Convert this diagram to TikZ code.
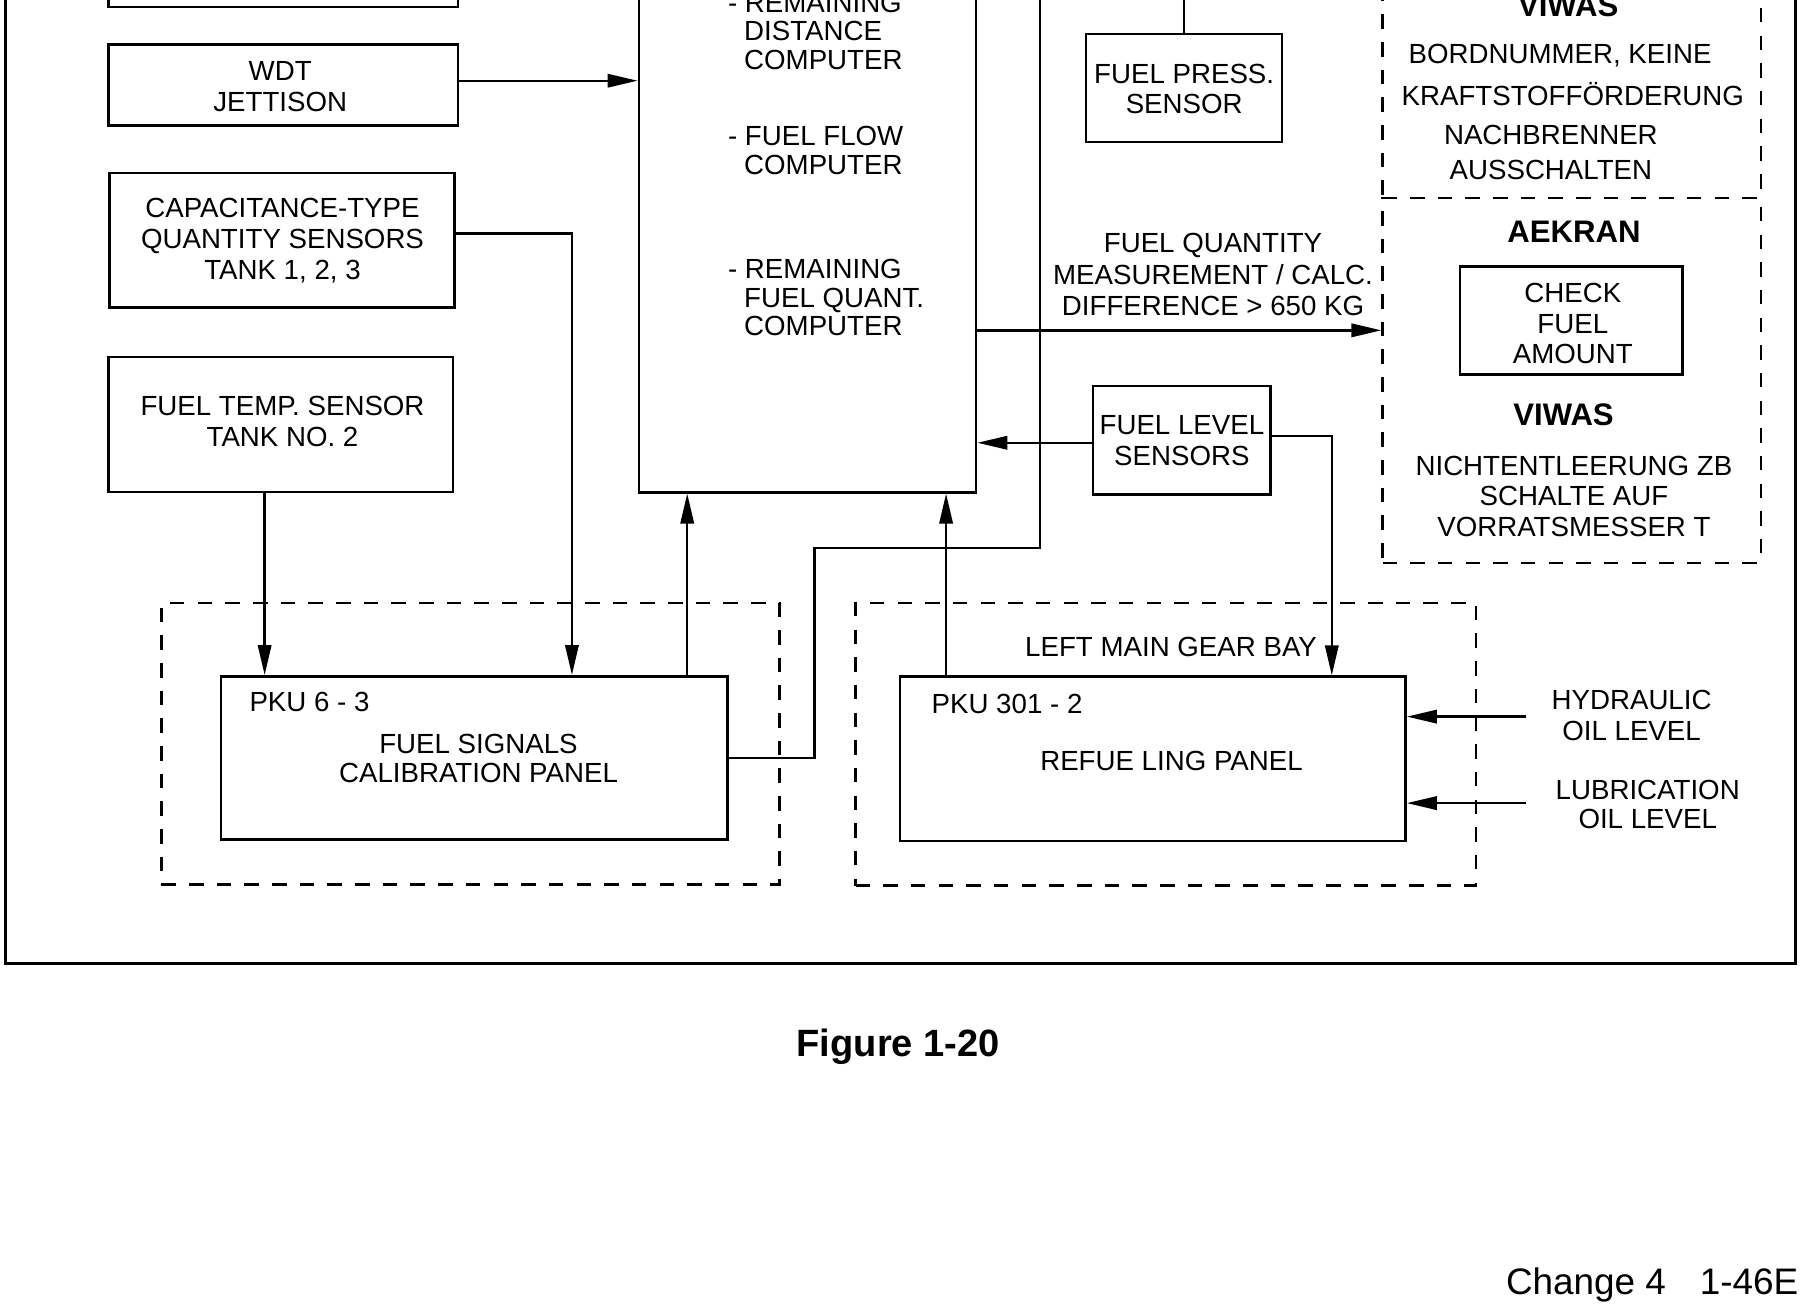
\documentclass[tikz,border=0pt]{standalone}
\usepackage{fontspec}
\setmainfont{Liberation Sans}
\usetikzlibrary{arrows.meta}
\newcommand{\rgf}{\fontsize{12pt}{13.5pt}\selectfont}
\newcommand{\bdf}{\fontsize{13.5pt}{15pt}\selectfont\bfseries}
\tikzset{
  box/.style={draw, line width=1.1pt, inner sep=0pt},
  dbox/.style={draw, line width=1pt, dash pattern=on 6.3pt off 5.7pt, inner sep=0pt},
  arr/.style={line width=1pt, -{Triangle[length=13pt,width=5.8pt]}},
  ln/.style={line width=1pt},
  txt/.style={inner sep=0pt, anchor=base, font=\rgf},
  txl/.style={inner sep=0pt, anchor=base west, font=\rgf},
  btxt/.style={inner sep=0pt, anchor=base, font=\bdf}
}
\begin{document}
\begin{tikzpicture}[x=0.5pt,y=-0.5pt]
\useasboundingbox (0,0) rectangle (1568,1138);
\clip (0,0) rectangle (1568,1138);

% outer frame
\draw[line width=1.1pt] (5,-60) -- (5,835.5) -- (1557,835.5) -- (1557,-60);

% dashed groups
\node[dbox, minimum width=268pt, minimum height=122pt] (d1) at (408,645) {};
\node[dbox, minimum width=269pt, minimum height=122.5pt] (d2) at (1011,645.5) {};
\node[dbox, minimum width=164pt, minimum height=115.75pt] (d3) at (1363,55.75) {};
\node[dbox, minimum width=164pt, minimum height=158.25pt] (aek) at (1363,329.75) {};

% boxes
\node[box, minimum width=151.5pt, minimum height=33pt] (topbox) at (245.5,-27) {};
\node[box, minimum width=151.5pt, minimum height=35.25pt] (wdt) at (245.5,73.75) {};
\node[box, minimum width=149.5pt, minimum height=58.25pt] (cap) at (244.5,208.25) {};
\node[box, minimum width=149.5pt, minimum height=58.5pt] (ftemp) at (243.5,368) {};
\node[box, minimum width=146.25pt, minimum height=243.5pt] (comp) at (700.25,183.5) {};
\node[box, minimum width=85pt, minimum height=46.75pt] (fpress) at (1027,76.25) {};
\node[box, minimum width=77pt, minimum height=47.2pt] (flevel) at (1025,381.8) {};
\node[box, minimum width=96.5pt, minimum height=47pt] (check) at (1362.5,278) {};
\node[box, minimum width=219.6pt, minimum height=70.75pt] (pku63) at (411.4,657.25) {};
\node[box, minimum width=219.25pt, minimum height=71.3pt] (refuel) at (999.75,658.1) {};

% helper coordinates
\coordinate (wdtout) at (397,70);
\coordinate (capout) at (394,202.5);
\coordinate (capx) at (496,0);
\coordinate (tx) at (229.5,0);
\coordinate (ux1) at (596,0);
\coordinate (ux2) at (820.5,0);
\coordinate (py) at (0,657.5);
\coordinate (c1) at (706.5,475.5);
\coordinate (topA) at (902,-60);
\coordinate (fly) at (0,384);
\coordinate (fly2) at (0,378);
\coordinate (dx) at (1155,0);
\coordinate (oy) at (0,286.5);
\coordinate (topB) at (1027,-60);
\coordinate (hyd) at (1323.6,621.5);
\coordinate (lub) at (1323.6,696.5);

% connectors
\draw[arr] (wdtout) -- (wdtout -| comp.west);
\draw[arr] (capout) -| (capx |- pku63.north);
\draw[arr] (tx |- ftemp.south) -- (tx |- pku63.north);
\draw[arr] (ux1 |- pku63.north) -- (ux1 |- comp.south);
\draw[ln] (pku63.east |- py) -| (c1) -| (topA);
\draw[arr] (ux2 |- refuel.north) -- (ux2 |- comp.south);
\draw[arr] (flevel.west |- fly) -- (comp.east |- fly);
\draw[arr] (flevel.east |- fly2) -| (dx |- refuel.north);
\draw[arr] (comp.east |- oy) -- (aek.west |- oy);
\draw[ln] (fpress.north) -- (topB);
\draw[arr] (hyd) -- (hyd -| refuel.east);
\draw[arr] (lub) -- (lub -| refuel.east);

% texts left column
\node[txt] (t1) at (243,69.6) {WDT};
\node[txt] (t2) at (243,96.6) {JETTISON};
\node[txt] (t3) at (245,188.6) {CAPACITANCE-TYPE};
\node[txt] (t4) at (245,215.6) {QUANTITY SENSORS};
\node[txt] (t5) at (245,242.6) {TANK 1, 2, 3};
\node[txt] (t6) at (245,360.6) {FUEL TEMP. SENSOR};
\node[txt] (t7) at (245,387.6) {TANK NO. 2};

% computer texts
\node[txl] (c1a) at (631,10.5) {- REMAINING};
\node[txl] (c1b) at (645,35.2) {DISTANCE};
\node[txl] (c1c) at (645,59.9) {COMPUTER};
\node[txl] (c2a) at (631,126.5) {- FUEL FLOW};
\node[txl] (c2b) at (645,151) {COMPUTER};
\node[txl] (c3a) at (631,241.6) {- REMAINING};
\node[txl] (c3b) at (645,266.3) {FUEL QUANT.};
\node[txl] (c3c) at (645,291.1) {COMPUTER};

% middle texts
\node[txt] (fp1) at (1027,72.1) {FUEL PRESS.};
\node[txt] (fp2) at (1027,98.6) {SENSOR};
\node[txt] (fq1) at (1052,218.6) {FUEL QUANTITY};
\node[txt] (fq2) at (1052,246.6) {MEASUREMENT / CALC.};
\node[txt] (fq3) at (1052,273.4) {DIFFERENCE > 650 KG};
\node[txt] (fl1) at (1025,377.2) {FUEL LEVEL};
\node[txt] (fl2) at (1025,403.6) {SENSORS};

% right column
\node[btxt] (v1) at (1360,14.5) {VIWAS};
\node[txt] (v2) at (1353,55.1) {BORDNUMMER, KEINE};
\node[txt] (v3) at (1364,91.6) {KRAFTSTOFFÖRDERUNG};
\node[txt] (v4) at (1345,125.6) {NACHBRENNER};
\node[txt] (v5) at (1345,155.6) {AUSSCHALTEN};
\node[btxt] (a1) at (1365,210.7) {AEKRAN};
\node[txt] (k1) at (1364,262.6) {CHECK};
\node[txt] (k2) at (1364,289.6) {FUEL};
\node[txt] (k3) at (1364,315.6) {AMOUNT};
\node[btxt] (w1) at (1356,368.7) {VIWAS};
\node[txt] (w2) at (1365,412.6) {NICHTENTLEERUNG ZB};
\node[txt] (w3) at (1365,438.6) {SCHALTE AUF};
\node[txt] (w4) at (1365,465.6) {VORRATSMESSER T};

% bottom groups
\node[txl] (p1) at (216,617) {PKU 6 - 3};
\node[txt] (p2) at (415,653.6) {FUEL SIGNALS};
\node[txt] (p3) at (415,678.3) {CALIBRATION PANEL};
\node[txt] (g1) at (1015.6,569.4) {LEFT MAIN GEAR BAY};
\node[txl] (r1) at (807.6,618.4) {PKU 301 - 2};
\node[txt] (r2) at (1016,668.3) {REFUE LING PANEL};
\node[txt] (h1) at (1415,615.6) {HYDRAULIC};
\node[txt] (h2) at (1415,642.3) {OIL LEVEL};
\node[txt] (l1) at (1429,693.1) {LUBRICATION};
\node[txt] (l2) at (1429,718.1) {OIL LEVEL};

% captions
\node[inner sep=0pt, anchor=base, font=\fontsize{16.5pt}{18pt}\selectfont\bfseries] (fig) at (779,916.4) {Figure 1-20};
\node[inner sep=0pt, anchor=base west, font=\fontsize{16pt}{18pt}\selectfont] (chg) at (1305.7,1123) {Change 4};
\node[inner sep=0pt, anchor=base east, font=\fontsize{16pt}{18pt}\selectfont] (pg) at (1560,1123) {1-46E};
\end{tikzpicture}
\end{document}
